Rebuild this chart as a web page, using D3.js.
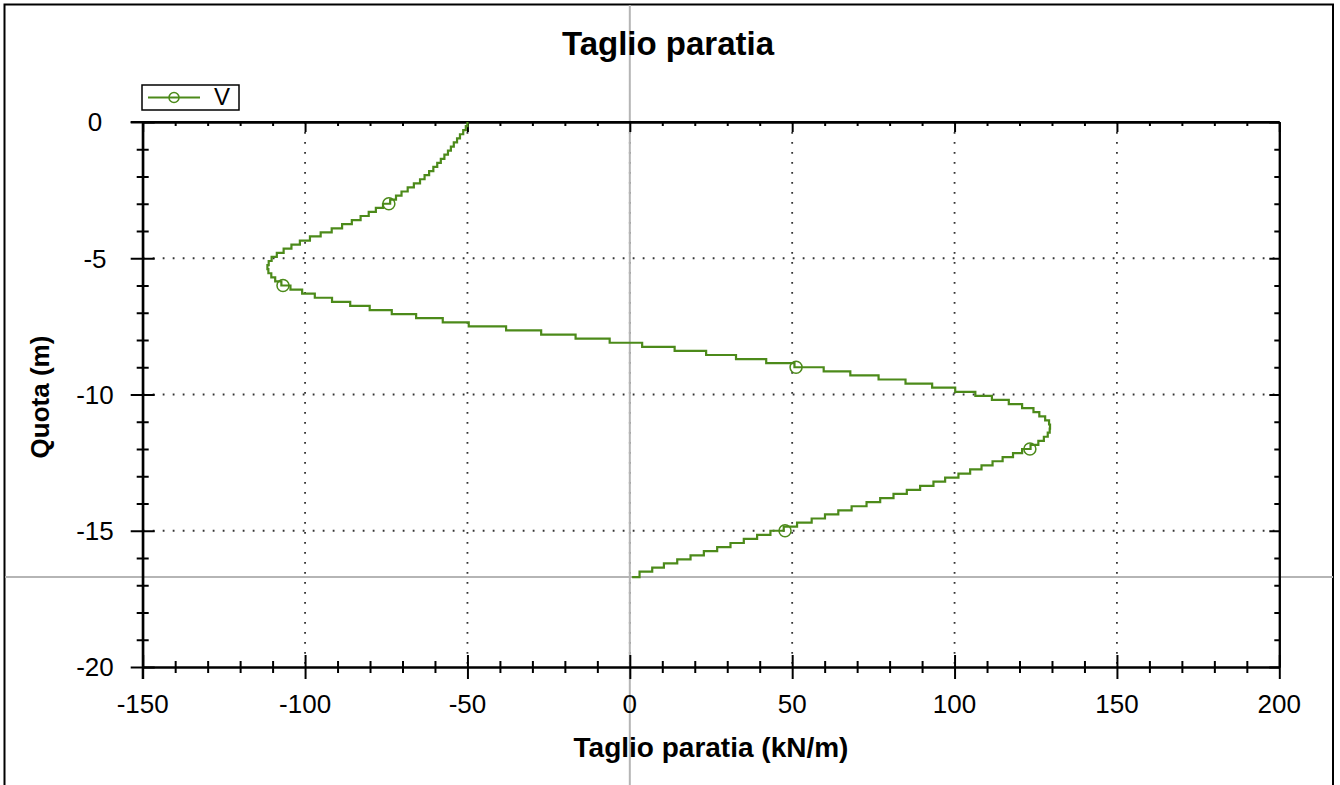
<!DOCTYPE html>
<html>
<head>
<meta charset="utf-8">
<title>Taglio paratia</title>
<script src="https://cdn.jsdelivr.net/npm/d3@7"></script>
<style>
  body { margin: 0; background: #fff; }
  text { font-family: "Liberation Sans", Arial, sans-serif; }
</style>
</head>
<body>
<script>
// depth of each node (m), top of every element plus the wall bottom
var quota = [
  0, -0.15, -0.3, -0.45, -0.6, -0.75, -0.9, -1.05, -1.2, -1.35,
  -1.5, -1.65, -1.8, -1.95, -2.1, -2.25, -2.4, -2.55, -2.7, -2.85,
  -3, -3.15, -3.3, -3.45, -3.6, -3.75, -3.9, -4.05, -4.2, -4.35,
  -4.5, -4.65, -4.8, -4.95, -5.1, -5.25, -5.4, -5.55, -5.7, -5.85,
  -6, -6.15, -6.3, -6.45, -6.6, -6.75, -6.9, -7.05, -7.2, -7.35,
  -7.5, -7.65, -7.8, -7.95, -8.1, -8.25, -8.4, -8.55, -8.7, -8.85,
  -9, -9.15, -9.3, -9.45, -9.6, -9.75, -9.9, -10.05, -10.2, -10.35,
  -10.5, -10.65, -10.8, -10.95, -11.1, -11.25, -11.4, -11.55, -11.7, -11.85,
  -12, -12.15, -12.3, -12.45, -12.6, -12.75, -12.9, -13.05, -13.2, -13.35,
  -13.5, -13.65, -13.8, -13.95, -14.1, -14.25, -14.4, -14.55, -14.7, -14.85,
  -15, -15.15, -15.3, -15.45, -15.6, -15.75, -15.9, -16.05, -16.2, -16.35,
  -16.5, -16.7
];

// shear V (kN/m) of each element, last value at the wall bottom
var taglio = [
  -50.0, -50.5, -51.3, -52.3, -53.2, -54.2, -55.1, -56.0, -57.1, -58.2,
  -59.3, -60.5, -61.8, -63.2, -64.6, -66.5, -68.4, -70.3, -72.0, -73.8,
  -76.0, -78.2, -80.4, -82.9, -85.6, -88.6, -91.8, -95.2, -98.5, -101.6,
  -104.2, -106.6, -108.7, -110.3, -111.2, -111.6, -111.3, -110.4, -109.2, -107.3,
  -104.5, -100.9, -97.0, -91.7, -86.1, -80.1, -73.3, -65.8, -57.6, -49.6,
  -38.1, -27.3, -16.7, -6.2, 3.8, 13.8, 23.5, 32.7, 42.0, 50.7,
  59.7, 67.9, 76.6, 84.9, 93.1, 100.2, 106.4, 111.5, 116.7, 120.8,
  124.3, 126.1, 127.9, 129.1, 129.4, 129.3, 128.7, 127.5, 125.8, 123.4,
  120.8, 118.0, 114.8, 111.7, 108.3, 104.8, 101.2, 97.1, 93.5, 89.4,
  85.3, 81.2, 77.1, 72.9, 68.3, 64.2, 60.1, 56.0, 51.5, 47.4,
  43.3, 39.2, 35.1, 31.0, 26.9, 22.8, 18.7, 14.6, 10.5, 6.9,
  3.0, 0.7
];

// marker points of the series
var markerQuota = [-3, -6, -9, -12, -15];
var markerTaglio = [-74.2, -106.8, 51.2, 123.2, 47.8];

// ticks
var xMajor = [-150, -100, -50, 0, 50, 100, 150, 200];
var xMinor = [-140, -130, -120, -110, -90, -80, -70, -60, -40, -30, -20, -10,
  10, 20, 30, 40, 60, 70, 80, 90, 110, 120, 130, 140, 160, 170, 180, 190];
var yMajor = [0, -5, -10, -15, -20];
var yMinor = [-1, -2, -3, -4, -6, -7, -8, -9, -11, -12, -13, -14, -16, -17, -18, -19];
var xGrid = [-100, -50, 0, 50, 100, 150];
var yGrid = [-5, -10, -15];

// cursor cross (V = 0, wall bottom)
var cursorV = 0, cursorQuota = -16.7;

var W = 1340, H = 785;
var pLeft = 142.7, pRight = 1279.3, pTop = 122, pBottom = 667;
var green = "#4c8a1a";

var x = d3.scaleLinear().domain([-150, 200]).range([pLeft, pRight]);
var y = d3.scaleLinear().domain([0, -20]).range([pTop, pBottom]);

var svg = d3.select("body").append("svg")
    .attr("width", W)
    .attr("height", H);

// outer frame
svg.append("rect")
    .attr("x", 4.5).attr("y", 4.5)
    .attr("width", 1328.5).attr("height", 820)
    .attr("fill", "none").attr("stroke", "#000").attr("stroke-width", 2);

// dotted grid
svg.append("g").selectAll("line").data(xGrid).enter().append("line")
    .attr("x1", function(d) { return x(d); }).attr("x2", function(d) { return x(d); })
    .attr("y1", pTop).attr("y2", pBottom)
    .attr("stroke", "#333").attr("stroke-width", 1.8).attr("stroke-dasharray", "1.8,8.2");
svg.append("g").selectAll("line").data(yGrid).enter().append("line")
    .attr("x1", pLeft).attr("x2", pRight)
    .attr("y1", function(d) { return y(d); }).attr("y2", function(d) { return y(d); })
    .attr("stroke", "#333").attr("stroke-width", 1.8).attr("stroke-dasharray", "1.8,8.2");

// cursor lines
svg.append("line")
    .attr("x1", x(cursorV)).attr("x2", x(cursorV)).attr("y1", 5).attr("y2", H)
    .attr("stroke", "#b5b5b5").attr("stroke-width", 2);
svg.append("line")
    .attr("x1", 5).attr("x2", 1333).attr("y1", y(cursorQuota)).attr("y2", y(cursorQuota))
    .attr("stroke", "#b5b5b5").attr("stroke-width", 2);

// axes: ticks drawn by d3 axis, then stretched to cross the frame
function styleAxis(g) {
  g.select(".domain").attr("stroke", "#000").attr("stroke-width", 2);
  g.selectAll(".tick line").attr("stroke", "#000").attr("stroke-width", 2);
  g.selectAll("text").remove();
}

// left
svg.append("g").attr("transform", "translate(" + pLeft + ",0)")
    .call(d3.axisLeft(y).tickValues(yMajor).tickSizeOuter(0))
    .call(styleAxis)
    .call(function(g) { g.selectAll(".tick line").attr("x1", -12).attr("x2", 12); });
svg.append("g").attr("transform", "translate(" + pLeft + ",0)")
    .call(d3.axisLeft(y).tickValues(yMinor).tickSizeOuter(0))
    .call(styleAxis)
    .call(function(g) { g.selectAll(".tick line").attr("x1", -6).attr("x2", 6); });
// right
svg.append("g").attr("transform", "translate(" + pRight + ",0)")
    .call(d3.axisRight(y).tickValues(yMajor).tickSizeInner(-10).tickSizeOuter(0))
    .call(styleAxis);
svg.append("g").attr("transform", "translate(" + pRight + ",0)")
    .call(d3.axisRight(y).tickValues(yMinor).tickSizeInner(-5).tickSizeOuter(0))
    .call(styleAxis);
// bottom
svg.append("g").attr("transform", "translate(0," + pBottom + ")")
    .call(d3.axisBottom(x).tickValues(xMajor).tickSizeOuter(0))
    .call(styleAxis)
    .call(function(g) { g.selectAll(".tick line").attr("y1", -12).attr("y2", 12); });
svg.append("g").attr("transform", "translate(0," + pBottom + ")")
    .call(d3.axisBottom(x).tickValues(xMinor).tickSizeOuter(0))
    .call(styleAxis)
    .call(function(g) { g.selectAll(".tick line").attr("y1", -6).attr("y2", 6); });
// top
svg.append("g").attr("transform", "translate(0," + pTop + ")")
    .call(d3.axisTop(x).tickValues(xMajor).tickSizeInner(-10).tickSizeOuter(0))
    .call(styleAxis);
svg.append("g").attr("transform", "translate(0," + pTop + ")")
    .call(d3.axisTop(x).tickValues(xMinor).tickSizeInner(-4).tickSizeOuter(0))
    .call(styleAxis);
// the frame edges run over the major tick ends at the corners
svg.append("line").attr("x1", pLeft - 12).attr("x2", pRight).attr("y1", pTop).attr("y2", pTop)
    .attr("stroke", "#000").attr("stroke-width", 2);
svg.append("line").attr("x1", pLeft).attr("x2", pLeft).attr("y1", pTop).attr("y2", pBottom + 12)
    .attr("stroke", "#000").attr("stroke-width", 2);

// tick labels
svg.append("g").selectAll("text").data(yMajor).enter().append("text")
    .attr("x", 95).attr("y", function(d) { return y(d); })
    .attr("dy", "0.36em")
    .attr("text-anchor", "middle")
    .attr("font-size", 26)
    .text(function(d) { return String(d); });
svg.append("g").selectAll("text").data(xMajor).enter().append("text")
    .attr("x", function(d) { return x(d); }).attr("y", 713)
    .attr("text-anchor", "middle")
    .attr("font-size", 26)
    .text(function(d) { return String(d); });

// titles
svg.append("text")
    .attr("x", 668).attr("y", 55)
    .attr("text-anchor", "middle")
    .attr("font-size", 33).attr("font-weight", "bold")
    .text("Taglio paratia");
svg.append("text")
    .attr("x", 711).attr("y", 757)
    .attr("text-anchor", "middle")
    .attr("font-size", 28).attr("font-weight", "bold")
    .text("Taglio paratia (kN/m)");
svg.append("text")
    .attr("transform", "translate(49,397) rotate(-90)")
    .attr("text-anchor", "middle")
    .attr("font-size", 26).attr("font-weight", "bold")
    .text("Quota (m)");

// the shear diagram, piecewise constant per element
var pts = quota.map(function(q, i) { return { z: q, v: taglio[i] }; });
var line = d3.line()
    .x(function(d) { return x(d.v); })
    .y(function(d) { return y(d.z); })
    .curve(d3.curveStepBefore);

svg.append("path")
    .datum(pts)
    .attr("fill", "none")
    .attr("stroke", green)
    .attr("stroke-width", 2.2)
    .attr("d", line);

svg.append("g").selectAll("circle").data(markerQuota).enter().append("circle")
    .attr("cx", function(d, i) { return x(markerTaglio[i]); })
    .attr("cy", function(d) { return y(d); })
    .attr("r", 6)
    .attr("fill", "none").attr("stroke", green).attr("stroke-width", 1.5);

// legend
var lg = svg.append("g");
lg.append("rect")
    .attr("x", 142).attr("y", 85).attr("width", 97).attr("height", 25)
    .attr("fill", "#fff").attr("stroke", "#000").attr("stroke-width", 1.5);
lg.append("line")
    .attr("x1", 148).attr("x2", 200).attr("y1", 97.5).attr("y2", 97.5)
    .attr("stroke", green).attr("stroke-width", 2);
lg.append("circle")
    .attr("cx", 174).attr("cy", 97.5).attr("r", 5)
    .attr("fill", "none").attr("stroke", green).attr("stroke-width", 1.5);
lg.append("text")
    .attr("x", 214).attr("y", 105)
    .attr("font-size", 24)
    .text("V");
</script>
</body>
</html>
